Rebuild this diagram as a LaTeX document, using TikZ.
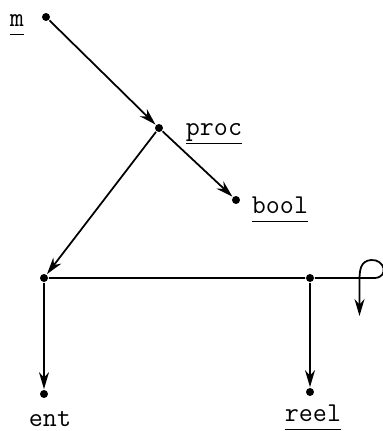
\documentclass[tikz,border=0pt]{standalone}
\usepackage{fontspec}
\usetikzlibrary{arrows.meta}
\newcommand{\ulbl}[1]{\underline{#1\vphantom{p}}}
\begin{document}
\begin{tikzpicture}[scale=1,
    dot/.style={circle, fill, inner sep=0pt, minimum size=0.16cm},
    lbl/.style={anchor=base, inner sep=0pt, font=\ttfamily\fontsize{15.5}{18}\selectfont},
    >={Stealth[length=0.34cm, width=0.2cm]}, line width=1pt]
    \useasboundingbox (0,0) rectangle (7.66,8.62);
    \node[dot] (m) at (0.92,8.28) {};
    \node[dot] (proc) at (3.18,6.06) {};
    \node[dot] (bool) at (4.72,4.62) {};
    \node[dot] (entj) at (0.88,3.06) {};
    \node[dot] (reelj) at (6.2,3.06) {};
    \node[dot] (ent) at (0.88,0.74) {};
    \node[dot] (reel) at (6.2,0.78) {};
    \coordinate (loopin) at (7.5,3.06);
    \coordinate (loopout) at (7.19,2.3);
    \node[lbl] (mlabel) at (0.34,8.1) {\ulbl{m}};
    \node[lbl] (proclabel) at (4.28,5.92) {\ulbl{proc}};
    \node[lbl] (boollabel) at (5.6,4.36) {\ulbl{bool}};
    \node[lbl] (entlabel) at (1.0,0.08) {ent};
    \node[lbl] (reellabel) at (6.26,0.2) {\ulbl{reel}};
    \draw[->] (m) -- (proc);
    \draw[->] (proc) -- (bool);
    \draw[->] (proc) -- (entj);
    \draw[->] (entj) -- (ent);
    \draw[->] (reelj) -- (reel);
    \draw[->] (entj) -- (reelj) -- (loopin) .. controls (7.78,3.08) and (7.7,3.44) .. (7.42,3.42)
        .. controls (7.2,3.4) and (7.19,3.2) .. (7.19,3.0) -- (loopout);
\end{tikzpicture}
\end{document}
